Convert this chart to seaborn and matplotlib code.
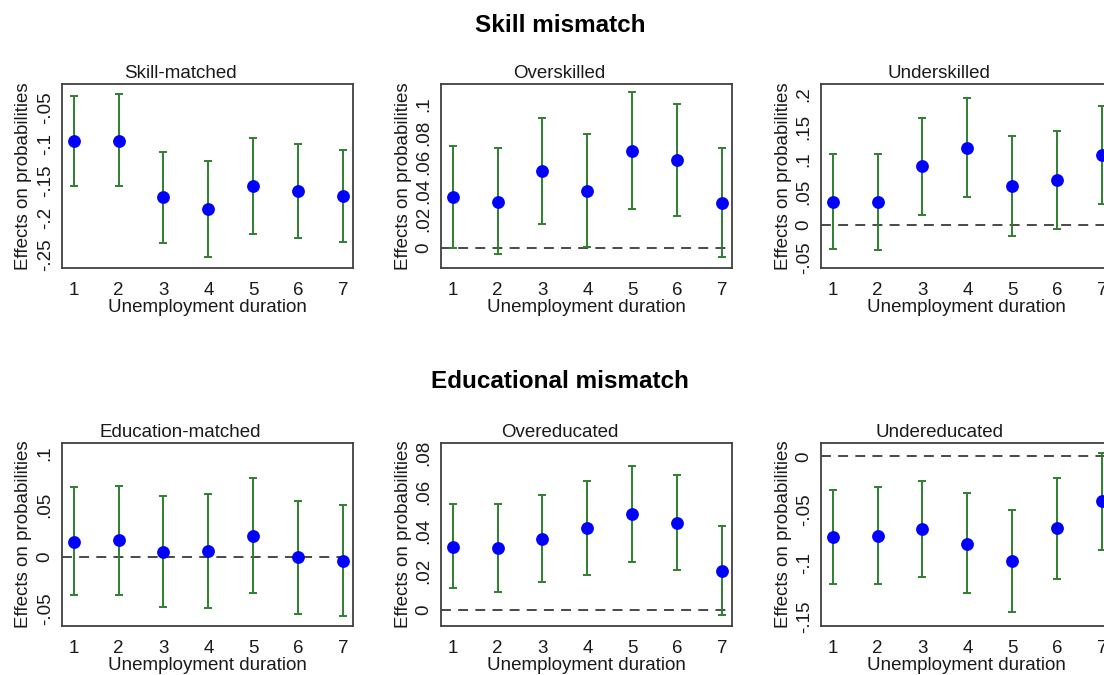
import matplotlib
matplotlib.use("Agg")
import matplotlib.pyplot as plt
import seaborn as sns
import pandas as pd

# ---------------- data ----------------
durations = [1, 2, 3, 4, 5, 6, 7]

skill_matched_est = [-0.096, -0.095, -0.172, -0.188, -0.157, -0.163, -0.170]
skill_matched_lo = [-0.156, -0.157, -0.234, -0.253, -0.222, -0.227, -0.233]
skill_matched_hi = [-0.034, -0.031, -0.110, -0.122, -0.092, -0.099, -0.107]

overskilled_est = [0.0354, 0.0323, 0.0534, 0.0400, 0.0677, 0.0609, 0.0316]
overskilled_lo = [0.0000, -0.0042, 0.0166, 0.0005, 0.0272, 0.0220, -0.0063]
overskilled_hi = [0.0707, 0.0696, 0.0906, 0.0792, 0.1084, 0.0998, 0.0693]

underskilled_est = [0.0352, 0.0347, 0.0898, 0.1180, 0.0592, 0.0684, 0.1066]
underskilled_lo = [-0.0378, -0.0393, 0.0148, 0.0423, -0.0168, -0.0071, 0.0316]
underskilled_hi = [0.1087, 0.1087, 0.1640, 0.1940, 0.1360, 0.1440, 0.1820]

edu_matched_est = [0.0145, 0.0158, 0.0048, 0.0058, 0.0203, -0.0006, -0.0042]
edu_matched_lo = [-0.0371, -0.0374, -0.0484, -0.0494, -0.0352, -0.0558, -0.0574]
edu_matched_hi = [0.0670, 0.0687, 0.0584, 0.0603, 0.0761, 0.0542, 0.0497]

overeducated_est = [0.0322, 0.0314, 0.0361, 0.0417, 0.0488, 0.0442, 0.0200]
overeducated_lo = [0.0110, 0.0093, 0.0141, 0.0180, 0.0246, 0.0203, -0.0025]
overeducated_hi = [0.0539, 0.0537, 0.0585, 0.0658, 0.0732, 0.0685, 0.0425]

undereducated_est = [-0.0758, -0.0745, -0.0682, -0.0818, -0.0984, -0.0673, -0.0421]
undereducated_lo = [-0.1195, -0.1198, -0.1135, -0.1283, -0.1462, -0.1145, -0.0874]
undereducated_hi = [-0.0318, -0.0289, -0.0226, -0.0346, -0.0500, -0.0198, 0.0031]

panel_titles = ["Skill-matched", "Overskilled", "Underskilled",
                "Education-matched", "Overeducated", "Undereducated"]
group_titles = ["Skill mismatch", "Educational mismatch"]

yticks_list = [
    [-0.25, -0.2, -0.15, -0.1, -0.05],
    [0, 0.02, 0.04, 0.06, 0.08, 0.1],
    [-0.05, 0, 0.05, 0.1, 0.15, 0.2],
    [-0.05, 0, 0.05, 0.1],
    [0, 0.02, 0.04, 0.06, 0.08],
    [-0.15, -0.1, -0.05, 0],
]
ylims = [(-0.268, -0.018), (-0.0138, 0.114), (-0.0663, 0.216),
         (-0.067, 0.11), (-0.0081, 0.0849), (-0.159, 0.0126)]

series = [
    (skill_matched_est, skill_matched_lo, skill_matched_hi),
    (overskilled_est, overskilled_lo, overskilled_hi),
    (underskilled_est, underskilled_lo, underskilled_hi),
    (edu_matched_est, edu_matched_lo, edu_matched_hi),
    (overeducated_est, overeducated_lo, overeducated_hi),
    (undereducated_est, undereducated_lo, undereducated_hi),
]


def stata_fmt(v):
    if abs(v) < 1e-12:
        return "0"
    s = ("%g" % v)
    s = s.replace("0.", ".")
    return s


# ---------------- style ----------------
sns.set_style("white")
plt.rcParams["font.family"] = ["Liberation Sans", "DejaVu Sans"]

W, H = 1104, 675
fig = plt.figure(figsize=(W / 100, H / 100), dpi=100)

lefts = [62, 441, 821]
width = 291
rows = [(84, 268), (443, 626)]

frame_col = "#404040"
text_col = "#1a1a1a"
bar_col = "#2f7f2f"
pt_col = "#0000ff"
fs = 13.5

for i, (est, lo, hi) in enumerate(series):
    r, c = divmod(i, 3)
    top, bot = rows[r]
    left = lefts[c]
    ax = fig.add_axes([left / W, 1 - bot / H, width / W, (bot - top) / H])

    df = pd.DataFrame({"dur": durations, "est": est, "lo": lo, "hi": hi})
    ax.axhline(0, color="#3a3a3a", lw=1.3, ls=(0, (5.5, 4.0)), zorder=1)
    ax.errorbar(df["dur"], df["est"],
                yerr=[df["est"] - df["lo"], df["hi"] - df["est"]],
                fmt="none", ecolor=bar_col, elinewidth=1.4, capsize=3.2,
                capthick=1.4, zorder=2)
    sns.scatterplot(data=df, x="dur", y="est", ax=ax, color=pt_col, s=85,
                    edgecolor=pt_col, linewidth=0, zorder=3, legend=False)

    ax.set_xlim(0.74, 7.22)
    ax.set_ylim(*ylims[i])
    ax.set_xticks(durations)
    ax.set_xticklabels([str(d) for d in durations])
    yt = yticks_list[i]
    ax.set_yticks(yt)
    ax.set_yticklabels([stata_fmt(v) for v in yt], rotation=90, va="center")

    ax.tick_params(axis="both", direction="out", length=5, width=1.0,
                   color=frame_col, labelsize=fs, labelcolor=text_col)
    ax.tick_params(axis="x", pad=5)
    ax.tick_params(axis="y", pad=1)
    for sp in ax.spines.values():
        sp.set_color(frame_col)
        sp.set_linewidth(1.3)

    ax.set_xlabel("Unemployment duration", fontsize=fs, color=text_col, labelpad=0)
    ax.set_ylabel("Effects on probabilities", fontsize=fs, color=text_col, labelpad=3)
    ax.set_title(panel_titles[i], fontsize=fs, color=text_col, x=0.407, pad=4)

fig.text(560 / W, 1 - 26 / H, group_titles[0], ha="center", va="center",
         fontsize=17.5, fontweight="bold", color="#000000")
fig.text(560 / W, 1 - 382 / H, group_titles[1], ha="center", va="center",
         fontsize=17.5, fontweight="bold", color="#000000")

fig.savefig("out.png", dpi=100, facecolor="white")
